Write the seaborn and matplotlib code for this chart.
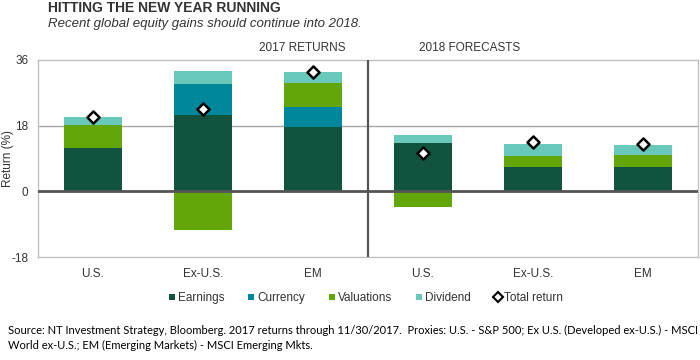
import matplotlib
matplotlib.use("Agg")
import matplotlib.pyplot as plt
from matplotlib.lines import Line2D
import numpy as np
import pandas as pd
import seaborn as sns

# values (percent)
categories = ["U.S.", "Ex-U.S.", "EM", "U.S.", "Ex-U.S.", "EM"]
earnings = [12.0, 21.0, 17.7, 13.3, 6.6, 6.6]
currency = [0.0, 8.5, 5.3, 0.0, 0.0, 0.0]
valuations = [6.2, -10.7, 6.7, -4.4, 3.2, 3.4]
dividend = [2.3, 3.5, 3.0, 2.2, 3.2, 2.8]
total_return = [20.5, 22.6, 32.7, 10.6, 13.4, 13.1]
section_labels = ["2017 RETURNS", "2018 FORECASTS"]

series_names = ["Earnings", "Currency", "Valuations", "Dividend"]
series_values = [earnings, currency, valuations, dividend]
colors = {"Earnings": "#11533f", "Currency": "#00879b",
          "Valuations": "#63a60a", "Dividend": "#68c9ba"}

sns.set_theme(style="white")
plt.rcParams["font.family"] = ["Liberation Sans Narrow", "Liberation Sans", "DejaVu Sans"]

fig = plt.figure(figsize=(7, 3.6), dpi=100)
ax = fig.add_axes([38 / 700, 103 / 360, 660 / 700, 197 / 360])

keys = [f"{i}_{c}" for i, c in enumerate(categories)]
pos_base = np.zeros(len(keys))
neg_base = np.zeros(len(keys))
for name, vals in zip(series_names, series_values):
    vals = np.array(vals)
    bottom = np.where(vals >= 0, pos_base, neg_base)
    df = pd.DataFrame({"key": keys, "value": vals})
    sns.barplot(data=df, x="key", y="value", order=keys, color=colors[name],
                width=0.53, bottom=bottom, saturation=1, linewidth=0, ax=ax,
                errorbar=None)
    pos_base += np.where(vals >= 0, vals, 0)
    neg_base += np.where(vals < 0, vals, 0)

tr = pd.DataFrame({"key": keys, "total": total_return})
sns.scatterplot(data=tr, x="key", y="total", marker="D", s=38, color="white",
                edgecolor="black", linewidth=1.8, ax=ax, zorder=5)

ax.set_xlim(-0.5, 5.5)
ax.set_ylim(-18, 36)
ax.set_yticks([-18, 0, 18, 36])
ax.set_yticklabels(["-18", "0", "18", "36"])
ax.set_xticks(range(len(keys)))
ax.set_xticklabels(categories)
ax.tick_params(axis="both", length=0, labelsize=8.5, colors="#333333")
ax.tick_params(axis="y", pad=7)
ax.tick_params(axis="x", pad=8)
ax.set_xlabel("")
ax.set_ylabel("Return (%)", fontsize=8.5, color="#333333")
ax.yaxis.set_label_coords(-0.036, 0.5)

ax.axhline(18, color="#a6a6a6", linewidth=1, zorder=0)
ax.axhline(0, color="#555555", linewidth=2, zorder=4)
ax.axvline(2.5, color="#555555", linewidth=1.6, zorder=4)
for side in ["top", "right", "bottom", "left"]:
    ax.spines[side].set_color("#c0c0c0")
    ax.spines[side].set_linewidth(1)

fig.text(302 / 700, 1 - 48 / 360, section_labels[0], ha="center", va="center",
         fontsize=8.5, color="#333333")
fig.text(470 / 700, 1 - 48 / 360, section_labels[1], ha="center", va="center",
         fontsize=8.5, color="#333333")

fig.text(48 / 700, 1 - 8 / 360, "HITTING THE NEW YEAR RUNNING", ha="left",
         va="center", fontsize=10, fontweight="bold", color="#333333")
fig.text(48 / 700, 1 - 24 / 360,
         "Recent global equity gains should continue into 2018.", ha="left",
         va="center", fontsize=9.5, style="italic", color="#333333")

handles = [Line2D([], [], marker="s", linestyle="", markersize=5,
                  markerfacecolor=colors[n], markeredgewidth=0, label=n)
           for n in series_names]
handles.append(Line2D([], [], marker="D", linestyle="", markersize=5,
                      markerfacecolor="white", markeredgecolor="black",
                      markeredgewidth=1.5, label="Total return"))
fig.legend(handles=handles, loc="center", bbox_to_anchor=(365 / 700, 1 - 298 / 360),
           ncol=5, frameon=False, fontsize=8.5, handletextpad=0.1,
           columnspacing=1.9, handlelength=0.8, labelcolor="#333333")

src = ("Source: NT Investment Strategy, Bloomberg. 2017 returns through 11/30/2017.  "
       "Proxies: U.S. - S&P 500; Ex U.S. (Developed ex-U.S.) - MSCI\n"
       "World ex-U.S.; EM (Emerging Markets) - MSCI Emerging Mkts.")
fig.text(8 / 700, 1 - 338 / 360, src, ha="left", va="center", fontsize=8,
         color="black", family=["Lato", "DejaVu Sans"], linespacing=1.5)

fig.savefig("out.png", dpi=100)
